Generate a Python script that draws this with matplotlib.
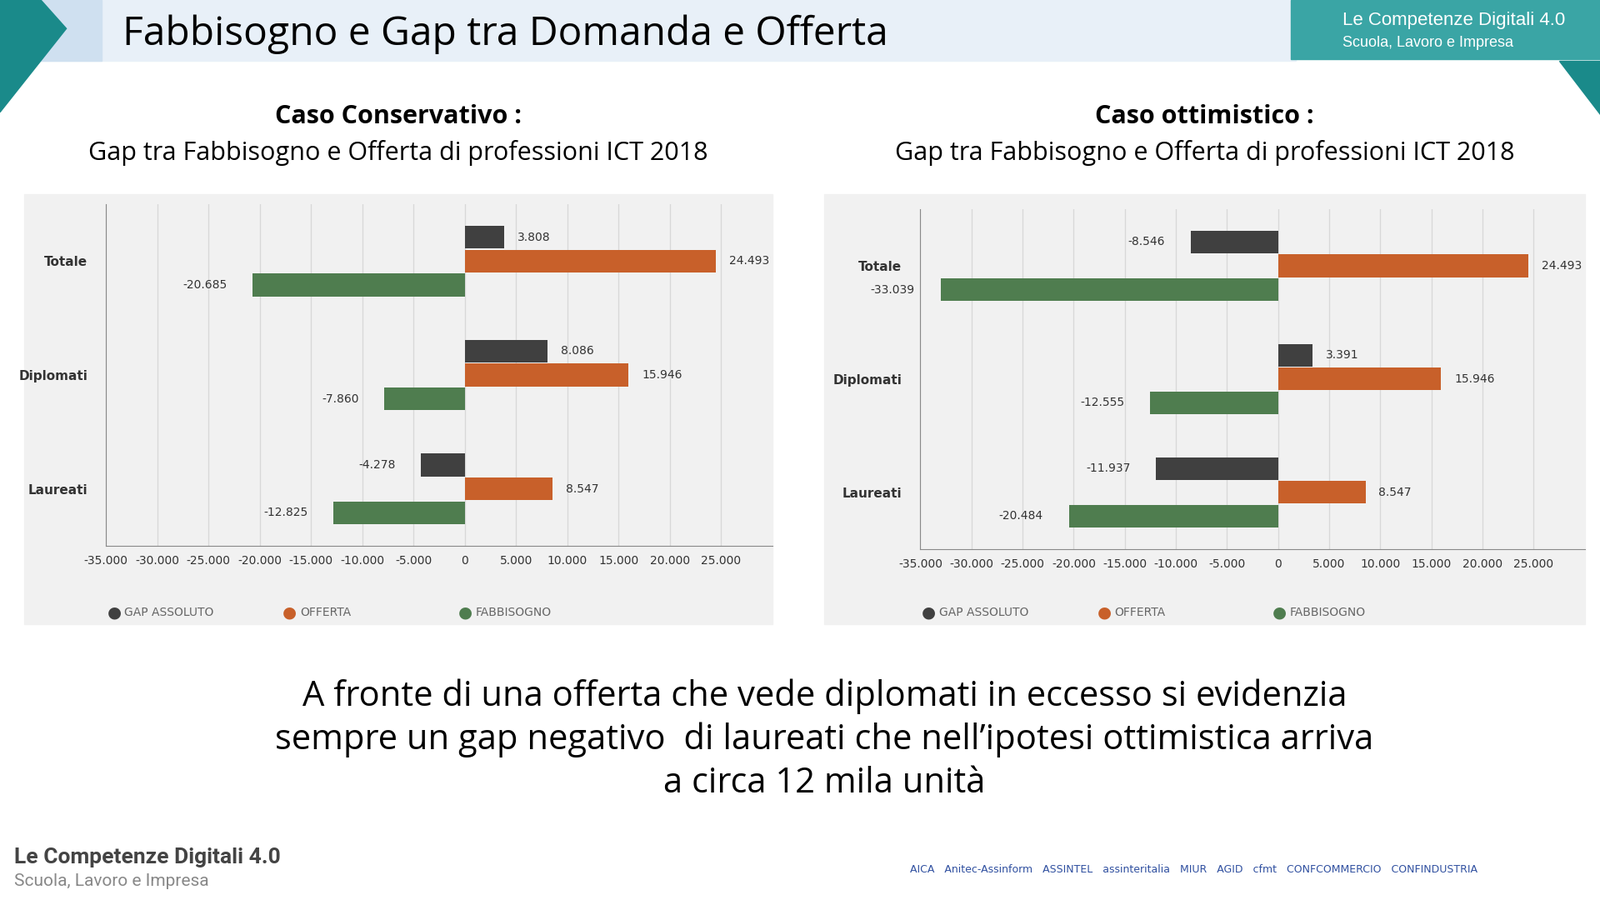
import matplotlib
matplotlib.use("Agg")
import matplotlib.pyplot as plt
from matplotlib.patches import Rectangle, Polygon

categories = ["Totale", "Diplomati", "Laureati"]
cons_gap = [3808, 8086, -4278]
cons_off = [24493, 15946, 8547]
cons_fab = [-20685, -7860, -12825]
opt_gap = [-8546, 3391, -11937]
opt_off = [24493, 15946, 8547]
opt_fab = [-33039, -12555, -20484]
ticks = [-35000, -30000, -25000, -20000, -15000, -10000, -5000, 0, 5000, 10000, 15000, 20000, 25000]
series_names = ["GAP ASSOLUTO", "OFFERTA", "FABBISOGNO"]
colors = ["#404040", "#c8602a", "#4f7d4f"]

W, H = 1568, 882
fig = plt.figure(figsize=(19.2, 10.8), dpi=100)
fig.patch.set_facecolor("white")

def fx(x): return x / W
def fy(y): return 1 - y / H

# header
fig.patches.append(Rectangle((fx(40), fy(60)), fx(1230), 60 / H, transform=fig.transFigure, color="#e8f0f8", zorder=0))
fig.patches.append(Rectangle((fx(40), fy(60)), fx(60), 60 / H, transform=fig.transFigure, color="#cfe0f0", zorder=0))
fig.patches.append(Polygon([(fx(0), fy(0)), (fx(40), fy(0)), (fx(65), fy(28)), (fx(0), fy(110))], closed=True, transform=fig.transFigure, color="#1a8a8a"))
fig.patches.append(Rectangle((fx(1265), fy(58)), fx(303), 58 / H, transform=fig.transFigure, color="#3aa5a5"))
fig.patches.append(Polygon([(fx(1528), fy(60)), (fx(1568), fy(60)), (fx(1568), fy(112))], closed=True, transform=fig.transFigure, color="#1a8a8a"))
fig.text(fx(120), fy(34), "Fabbisogno e Gap tra Domanda e Offerta", fontsize=34.5, va="center", family="Open Sans")
fig.text(fx(1316), fy(20), "Le Competenze Digitali 4.0", fontsize=16, color="white", va="center", family="Liberation Sans")
fig.text(fx(1316), fy(42), "Scuola, Lavoro e Impresa", fontsize=13, color="white", va="center", family="Liberation Sans")

def chart(px0, px1, ax0, ay0, ay1, title_bold, gap, off, fab):
    fig.patches.append(Rectangle((fx(px0), fy(612)), fx(px1 - px0), 422 / H, transform=fig.transFigure, color="#f1f1f1", zorder=0))
    cx = (px0 + px1) / 2
    fig.text(fx(cx), fy(114), title_bold + " :", fontsize=22, ha="center", va="center", weight="bold", family="Open Sans")
    fig.text(fx(cx), fy(150), "Gap tra Fabbisogno e Offerta di professioni ICT 2018", fontsize=22, ha="center", va="center", family="Open Sans")
    ax = fig.add_axes([fx(ax0), fy(ay1), fx(px1 - ax0), (ay1 - ay0) / H])
    ax.set_zorder(3)
    ax.set_facecolor("#f1f1f1")
    ax.set_xlim(-35000, 30000)
    ax.set_ylim(2.5, -0.5)
    h = 0.2
    for i, cat in enumerate(categories):
        for j, (vals, c) in enumerate(zip([gap, off, fab], colors)):
            y = i + (j - 1) * 0.21
            v = vals[i]
            ax.barh(y, v, height=h, color=c, zorder=3)
            lbl = f"{v:,}".replace(",", ".")
            if v >= 0:
                ax.text(v + 1300, y, lbl, va="center", ha="left", fontsize=10, color="#333")
            else:
                ax.text(v - 2500, y, lbl, va="center", ha="right", fontsize=10, color="#333")
    ax.set_xticks(ticks)
    ax.set_xticklabels([f"{t:,}".replace(",", ".") for t in ticks], fontsize=10, color="#333")
    ax.set_yticks(range(3))
    ax.set_yticklabels(categories, fontsize=11, weight="bold", color="#333")
    ax.tick_params(axis="y", length=0, pad=16)
    ax.tick_params(axis="x", length=0, pad=8)
    ax.grid(axis="x", color="#d8d8d8", lw=1, zorder=0)
    for s in ["top", "right"]:
        ax.spines[s].set_visible(False)
    ax.spines["left"].set_color("#888")
    ax.spines["bottom"].set_color("#888")
    for k, (n, c) in enumerate(zip(series_names, colors)):
        lx = ax0 + 8 + k * 172
        fig.text(fx(lx), fy(600), "●", color=c, fontsize=14, va="center", ha="center")
        fig.text(fx(lx + 10), fy(600), n, color="#666", fontsize=10, va="center")

chart(24, 757, 104, 200, 535, "Caso Conservativo", cons_gap, cons_off, cons_fab)
chart(808, 1553, 902, 205, 538, "Caso ottimistico", opt_gap, opt_off, opt_fab)

fig.text(fx(808), fy(725), "A fronte di una offerta che vede diplomati in eccesso si evidenzia\nsempre un gap negativo  di laureati che nell\u2019ipotesi ottimistica arriva\na circa 12 mila unità",
         fontsize=30, ha="center", va="center", linespacing=1.3, family="Open Sans")
fig.text(fx(14), fy(840), "Le Competenze Digitali 4.0", fontsize=19, weight="bold", color="#444", va="center", family="Roboto")
fig.text(fx(14), fy(864), "Scuola, Lavoro e Impresa", fontsize=15, color="#888", va="center", family="Roboto")
fig.text(fx(1170), fy(852), "AICA   Anitec-Assinform   ASSINTEL   assinteritalia   MIUR   AGID   cfmt   CONFCOMMERCIO   CONFINDUSTRIA",
         fontsize=9, color="#3050a0", ha="center", va="center")

fig.savefig("out.png", dpi=100)
